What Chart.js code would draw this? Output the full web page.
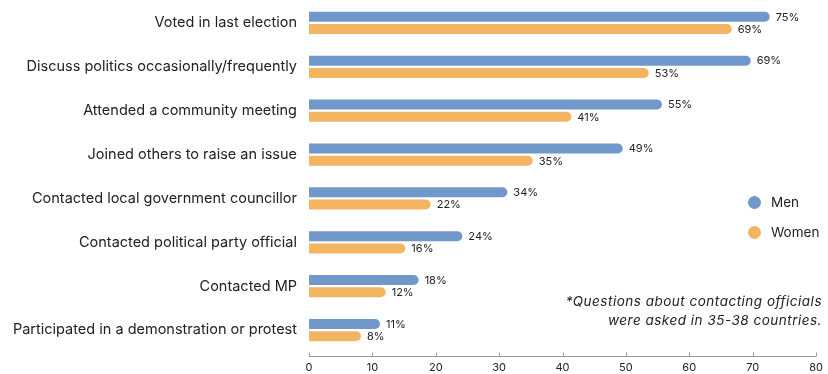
<!DOCTYPE html>
<html>
<head>
<meta charset="utf-8">
<script src="https://cdn.jsdelivr.net/npm/chart.js@4.4.1/dist/chart.umd.min.js"></script>
<style>
  html, body { margin: 0; padding: 0; background: #fff; }
  #wrap { position: relative; width: 828px; height: 374px; }
  #legend { position: absolute; left: 748px; top: 187px; font: 13.5px Inter, sans-serif; color: #222; }
  .item { display: flex; align-items: center; height: 30px; }
  .dot { width: 13px; height: 13px; border-radius: 50%; margin-right: 10px; }
  #note { position: absolute; right: 6px; top: 292px; font: italic 13.5px Inter, sans-serif; letter-spacing: 0.5px; text-align: right; line-height: 19px; color: #222; }
</style>
</head>
<body>
<div id="wrap">
  <canvas id="chart" width="828" height="374"></canvas>
  <div id="legend"></div>
  <div id="note">*Questions about contacting officials<br>were asked in 35-38 countries.</div>
</div>
<script>
const categories = [
    'Voted in last election',
    'Discuss politics occasionally/frequently',
    'Attended a community meeting',
    'Joined others to raise an issue',
    'Contacted local government councillor',
    'Contacted political party official',
    'Contacted MP',
    'Participated in a demonstration or protest'
];
// bar lengths as drawn in the picture
const menValues = [72.7, 69.7, 55.7, 49.5, 31.3, 24.2, 17.3, 11.2];
const womenValues = [66.7, 53.6, 41.4, 35.3, 19.2, 15.2, 12.1, 8.2];
// printed labels next to the bars
const menLabels = ['75%', '69%', '55%', '49%', '34%', '24%', '18%', '11%'];
const womenLabels = ['69%', '53%', '41%', '35%', '22%', '16%', '12%', '8%'];
const xMin = 0, xMax = 80, xStep = 10;

const MEN = '#7198CA';
const WOMEN = '#F4B563';

Chart.defaults.font.family = 'Inter, sans-serif';
Chart.defaults.color = '#222';

// value labels at the end of each bar
const valueLabels = {
    id: 'valueLabels',
    afterDatasetsDraw(chart) {
        const ctx = chart.ctx;
        ctx.save();
        ctx.font = '11px Inter, sans-serif';
        ctx.fillStyle = '#222';
        ctx.textBaseline = 'middle';
        chart.data.datasets.forEach((ds, i) => {
            chart.getDatasetMeta(i).data.forEach((bar, j) => {
                ctx.fillText(ds.valueLabels[j], bar.x + 6, bar.y + 0.5);
            });
        });
        ctx.restore();
    }
};

// axis line a little under the plot, with ticks pointing up
const bottomAxis = {
    id: 'bottomAxis',
    afterDraw(chart) {
        const ctx = chart.ctx;
        const sx = chart.scales.x;
        const y = chart.chartArea.bottom + 4.5;
        ctx.save();
        ctx.strokeStyle = '#999';
        ctx.lineWidth = 1;
        ctx.beginPath();
        ctx.moveTo(sx.left, y);
        ctx.lineTo(sx.right, y);
        sx.ticks.forEach((t, i) => {
            const px = Math.round(sx.getPixelForTick(i)) + 0.5;
            ctx.moveTo(px, y);
            ctx.lineTo(px, y - 4);
        });
        ctx.stroke();
        ctx.restore();
    }
};

const chart = new Chart(document.getElementById('chart').getContext('2d'), {
    type: 'bar',
    data: {
        labels: categories,
        datasets: [
            { label: 'Men', data: menValues, valueLabels: menLabels, backgroundColor: MEN },
            { label: 'Women', data: womenValues, valueLabels: womenLabels, backgroundColor: WOMEN }
        ]
    },
    options: {
        indexAxis: 'y',
        responsive: false,
        animation: false,
        layout: { padding: { top: 1, right: 12, left: 0, bottom: 0 } },
        datasets: {
            bar: {
                categoryPercentage: 0.56,
                barPercentage: 0.81,
                borderRadius: 5,
                borderSkipped: 'start'
            }
        },
        scales: {
            x: {
                min: xMin,
                max: xMax,
                grid: { display: false, drawTicks: false },
                border: { display: false },
                ticks: { stepSize: xStep, font: { size: 11 }, color: '#222', padding: 9, maxRotation: 0 },
                afterFit: s => { s.height = 22; s.paddingLeft = 0; s.paddingRight = 0; }
            },
            y: {
                grid: { display: false, drawTicks: false },
                border: { display: false },
                ticks: { font: { size: 14.5 }, color: '#222', padding: 12 },
                afterFit: s => { s.width = 309; s.paddingTop = 0; s.paddingBottom = 0; }
            }
        },
        plugins: {
            legend: { display: false },
            tooltip: { enabled: false }
        }
    },
    plugins: [valueLabels, bottomAxis]
});

// html legend from the datasets
const legend = document.getElementById('legend');
chart.data.datasets.forEach(ds => {
    const item = document.createElement('div');
    item.className = 'item';
    item.innerHTML = `<span class="dot" style="background:${ds.backgroundColor}"></span><span>${ds.label}</span>`;
    legend.appendChild(item);
});
</script>
</body>
</html>
